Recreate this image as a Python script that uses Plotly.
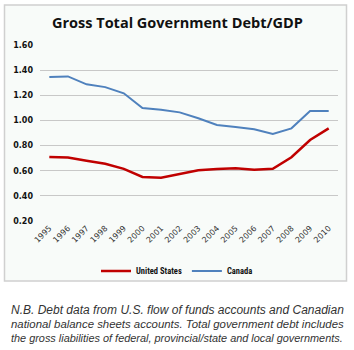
import plotly.graph_objects as go

years = [str(y) for y in range(1995, 2011)]
us = [0.71, 0.705, 0.68, 0.655, 0.615, 0.55, 0.545, 0.574, 0.603, 0.613, 0.619, 0.608, 0.616, 0.707, 0.844, 0.937]
canada = [1.345, 1.35, 1.287, 1.265, 1.216, 1.099, 1.085, 1.064, 1.017, 0.964, 0.948, 0.93, 0.892, 0.937, 1.075, 1.075]
yticks = [0.2, 0.4, 0.6, 0.8, 1.0, 1.2, 1.4, 1.6]

W, H = 354, 350
ml, mr, mt, mb = 40, 16, 45, 129
pw, ph = W - ml - mr, H - mt - mb

def px(x):
    return (x - ml) / pw

def py(y):
    return (H - mb - y) / ph

fig = go.Figure()
fig.add_trace(go.Scatter(x=years, y=us, mode="lines", name="<b>United States</b>",
                         line=dict(color="#c00000", width=2.5)))
fig.add_trace(go.Scatter(x=years, y=canada, mode="lines", name="<b>Canada</b>",
                         line=dict(color="#4f81bd", width=2)))

fig.update_layout(
    width=W, height=H,
    margin=dict(l=ml, r=mr, t=mt, b=mb),
    paper_bgcolor="white",
    plot_bgcolor="rgba(0,0,0,0)",
    showlegend=True,
    legend=dict(orientation="h", x=px(177), xanchor="center", y=py(271), yanchor="middle",
                font=dict(family="Roboto Condensed, Liberation Sans, sans-serif", size=8.5, color="#111"),
                bgcolor="rgba(0,0,0,0)", itemwidth=30, tracegroupgap=0),
    xaxis=dict(type="category", range=[-0.5, 15.5], showgrid=False, showline=False,
               ticks="", tickangle=-45,
               tickfont=dict(family="DejaVu Sans, sans-serif", size=8, color="#333")),
    yaxis=dict(range=[0.2, 1.6], tickvals=yticks, ticktext=[f"<b>{v:.2f}</b>" for v in yticks],
               showgrid=True, gridcolor="#c8c8c8", gridwidth=1, zeroline=False, showline=False,
               ticks="", ticklabelstandoff=6,
               tickfont=dict(family="DejaVu Sans, sans-serif", size=8, color="#111")),
    shapes=[
        dict(type="rect", xref="paper", yref="paper", layer="below",
             x0=px(4.5), x1=px(346.5), y0=py(281), y1=py(5),
             line=dict(color="#d0d0d0", width=1.5), fillcolor="#f8fbf9"),
    ],
    annotations=[
        dict(text="<b>Gross Total Government Debt/GDP</b>", xref="paper", yref="paper",
             x=px(177), y=py(22), xanchor="center", yanchor="middle", showarrow=False,
             font=dict(family="Open Sans, sans-serif", size=14.5, color="#111")),
    ],
)

caption = [
    "N.B. Debt data from U.S. flow of funds accounts and Canadian",
    "national balance sheets accounts. Total government debt includes",
    "the gross liabilities of federal, provincial/state and local governments.",
]
cap_sizes = [12, 11.4, 10.9]
for i, line in enumerate(caption):
    fig.add_annotation(text=f"<i>{line}</i>", xref="paper", yref="paper",
                       x=px(177), y=py(310 + i * 14), xanchor="center", yanchor="middle",
                       showarrow=False,
                       font=dict(family="Liberation Sans, sans-serif", size=cap_sizes[i], color="#333"))

fig.write_html("out.html")
